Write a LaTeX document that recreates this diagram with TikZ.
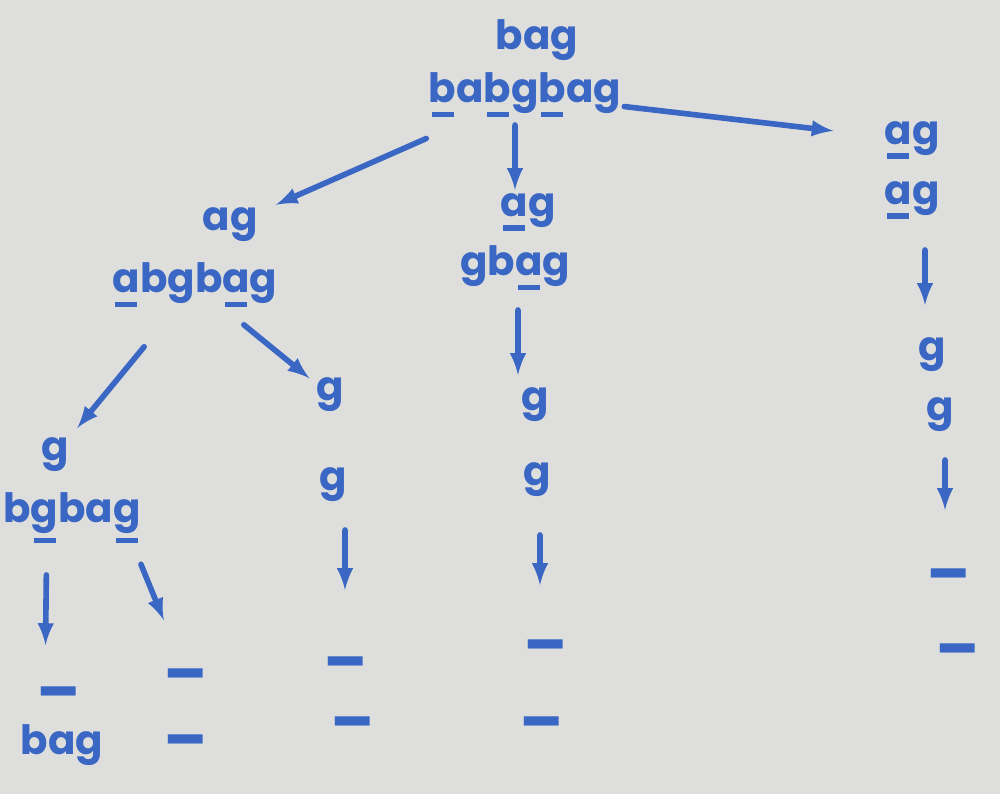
\documentclass[tikz,border=0pt]{standalone}
\usepackage{fontspec}
\setmainfont{Poppins}
\usetikzlibrary{arrows}

\definecolor{board}{RGB}{222,223,220}
\definecolor{marker}{RGB}{58,102,196}

% underline one letter (the matched character)
\newcommand{\ul}[2][.36em]{\leavevmode\setbox0=\hbox{#2}%
  \rlap{\kern.1\wd0\rule[-#1]{.8\wd0}{3pt}}\box0}

\begin{document}
\begin{tikzpicture}[x = 0.02cm, y = -0.02cm,
	word/.style = {text = marker, font = \fontsize{23}{25}\selectfont\bfseries, inner sep = 1pt},
	blank/.style = {word, font = \fontsize{32}{34}\selectfont\bfseries},
	arr/.style = {->, > = latex, draw = marker, line width = 3.2pt, line cap = round}]
	\fill [board] (0,0) rectangle (1000,794);
	% root
	\node [word] (r1) at (537,40) {bag};
	\node [word] (r2) at (525,95) {\ul{b}a\ul{b}g\ul{b}ag};
	% left branch
	\node [word] (a1) at (230,225) {ag};
	\node [word] (a2) at (195,285) {\ul{a}bgb\ul{a}g};
	\node [word] (aa1) at (55,455) {g};
	\node [word] (aa2) at (72,518) {b\ul[.5em]{g}ba\ul[.5em]{g}};
	\node [blank] (aaa1) at (58,690) {\_};
	\node [word] (aaa2) at (62,745) {bag};
	\node [blank] (aab1) at (185,672) {\_};
	\node [blank] (aab2) at (185,738) {\_};
	\node [word] (ab1) at (330,395) {g};
	\node [word] (ab2) at (333,485) {g};
	\node [blank] (ab3) at (345,660) {\_};
	\node [blank] (ab4) at (352,720) {\_};
	% middle branch
	\node [word] (b1) at (528,212) {\ul{a}g};
	\node [word] (b2) at (515,268) {gb\ul{a}g};
	\node [word] (b3) at (535,405) {g};
	\node [word] (b4) at (537,480) {g};
	\node [blank] (b5) at (545,643) {\_};
	\node [blank] (b6) at (541,720) {\_};
	% right branch
	\node [word] (c1) at (912,140) {\ul{a}g};
	\node [word] (c2) at (912,200) {\ul{a}g};
	\node [word] (c3) at (932,355) {g};
	\node [word] (c4) at (940,415) {g};
	\node [blank] (c5) at (948,572) {\_};
	\node [blank] (c6) at (957,647) {\_};
	% arrows
	\draw [arr, shorten < = 2.16cm, shorten > = 1cm] (r2.center) -- (a1.center);
	\draw [arr, shorten < = 0.6cm, shorten > = 0.44cm] ([xshift=-0.2cm]r2.center) -- ([xshift=-0.26cm]b1.center);
	\draw [arr, shorten < = 2cm, shorten > = 1.58cm] (r2.center) -- (c1.center);
	\draw [arr, shorten < = 1.6cm, shorten > = 0.7cm] (a2.center) -- (aa1.center);
	\draw [arr, shorten < = 1.26cm, shorten > = 0.53cm] (a2.center) -- (ab1.center);
	\draw [arr, shorten < = 1.14cm, shorten > = 0.9cm] ([xshift=-0.5cm]aa2.center) -- ([xshift=-0.26cm]aaa1.center);
	\draw [arr, shorten < = 1cm, shorten > = 1.12cm] ([xshift=1cm]aa2.center) -- (aab1.center);
	\draw [arr, shorten < = 0.9cm, shorten > = 1.4cm] ([xshift=0.24cm]ab2.center) -- (ab3.center);
	\draw [arr, shorten < = 0.84cm, shorten > = 0.6cm] ([xshift=0.06cm]b2.center) -- ([xshift=-0.34cm]b3.center);
	\draw [arr, shorten < = 1.1cm, shorten > = 1.16cm] ([xshift=0.06cm]b4.center) -- ([xshift=-0.1cm]b5.center);
	\draw [arr, shorten < = 1cm, shorten > = 1cm] ([xshift=0.26cm]c2.center) -- ([xshift=-0.14cm]c3.center);
	\draw [arr, shorten < = 0.9cm, shorten > = 1.24cm] ([xshift=0.1cm]c4.center) -- ([xshift=-0.06cm]c5.center);
\end{tikzpicture}
\end{document}
